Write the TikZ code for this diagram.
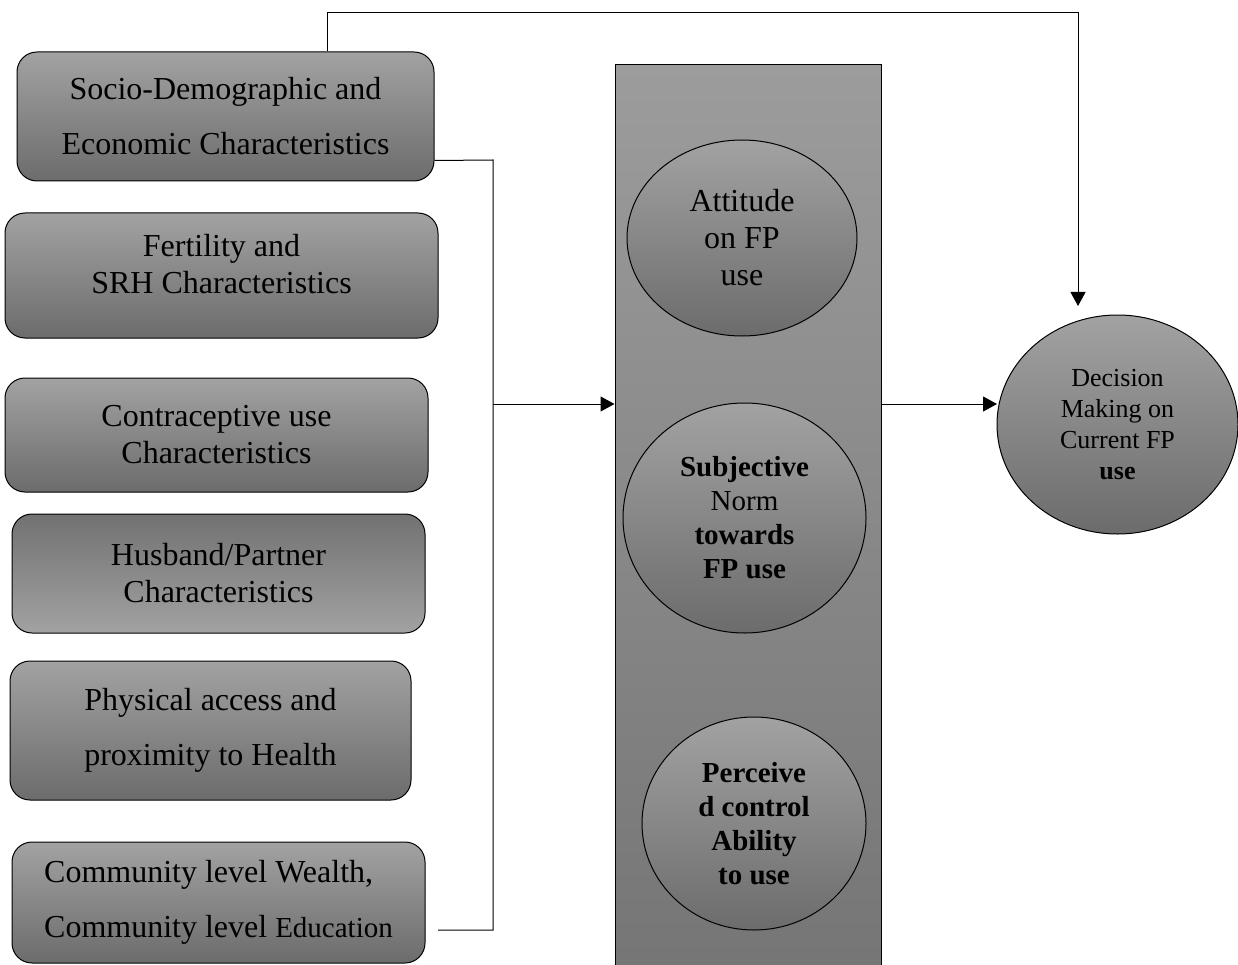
\documentclass[tikz,border=0pt]{standalone}
\usepackage{fontspec}
\setmainfont{Liberation Serif}
\usetikzlibrary{shapes.geometric,arrows.meta}
\definecolor{gtop}{HTML}{A2A2A2}
\definecolor{gbot}{HTML}{6C6C6C}
\definecolor{rtop}{HTML}{9C9C9C}
\definecolor{rbot}{HTML}{747474}
\begin{document}
\begin{tikzpicture}[x=1pt,y=-1pt,
  box/.style={draw=black, line width=1pt, rounded corners=20pt, top color=gtop, bottom color=gbot, align=center, inner sep=0pt, font=\fontsize{32}{37}\selectfont},
  widebox/.style={box, font=\fontsize{32}{55}\selectfont},
  oval/.style={ellipse, draw=black, line width=1pt, top color=gtop, bottom color=gbot, align=center, inner sep=0pt},
  conn/.style={line width=1pt},
  arr/.style={conn, -{Triangle[length=14pt,width=15pt]}}]
\useasboundingbox (0,0) rectangle (1238,965);

% left boxes
\node[widebox, minimum width=417pt, minimum height=129pt] (b1) at (225.5,116.5) {Socio-Demographic and\\Economic Characteristics};
\node[box, minimum width=433pt, minimum height=125pt, text depth=24pt] (b2) at (221.5,275.5) {Fertility and\\SRH Characteristics};
\node[box, minimum width=423pt, minimum height=114pt] (b3) at (216.5,435) {Contraceptive use\\Characteristics};
\node[box, top color=gbot!90!gtop, bottom color=gtop, minimum width=413pt, minimum height=119pt] (b4) at (218.5,573.5) {Husband/Partner\\Characteristics};
\node[widebox, minimum width=401pt, minimum height=139pt] (b5) at (210.5,730.5) {Physical access and\\proximity to Health};
\node[widebox, align=left, minimum width=413pt, minimum height=121pt] (b6) at (218.5,902.5) {Community level Wealth,\\Community level {\fontsize{29}{55}\selectfont Education}};

% central column
\node[draw=black, line width=1pt, top color=rtop, bottom color=rbot, minimum width=266pt, minimum height=940pt, inner sep=0pt] (big) at (748,535) {};
\node[oval, minimum width=230pt, minimum height=196pt, font=\fontsize{32}{37}\selectfont] (att) at (742,238) {Attitude\\on FP\\use};
\node[oval, minimum width=243pt, minimum height=230pt, font=\fontsize{29}{34}\selectfont] (subj) at (744.5,518) {\textbf{Subjective}\\Norm\\\textbf{towards}\\\textbf{FP use}};
\node[oval, minimum width=224pt, minimum height=213pt, font=\fontsize{29}{34}\selectfont\bfseries] (perc) at (754,823.5) {Perceive\\d control\\Ability\\to use};

% outcome
\node[oval, minimum width=241pt, minimum height=219pt, font=\fontsize{26}{31}\selectfont] (dec) at (1117.5,424.5) {Decision\\Making on\\Current FP\\\textbf{use}};

% connectors
\coordinate (tl) at (327,13);
\coordinate (tr) at (1078,13);
\coordinate (ttip) at (1078,306);
\draw[arr] (b1.north -| tl) -- (tl) -- (tr) -- (ttip);

\coordinate (bx) at (493,160);
\coordinate (by) at (493,930);
\coordinate (bend) at (438,930);
\coordinate (jn) at (493,404);
\draw[conn] ([yshift=21pt]b1.south east) -- (bx) -- (by) -- (bend);
\draw[arr] (jn) -- (jn -| big.west);

\coordinate (rs) at (881,404);
\coordinate (rtip) at (997,404);
\draw[arr] (rs) -- (rtip);
\end{tikzpicture}
\end{document}
